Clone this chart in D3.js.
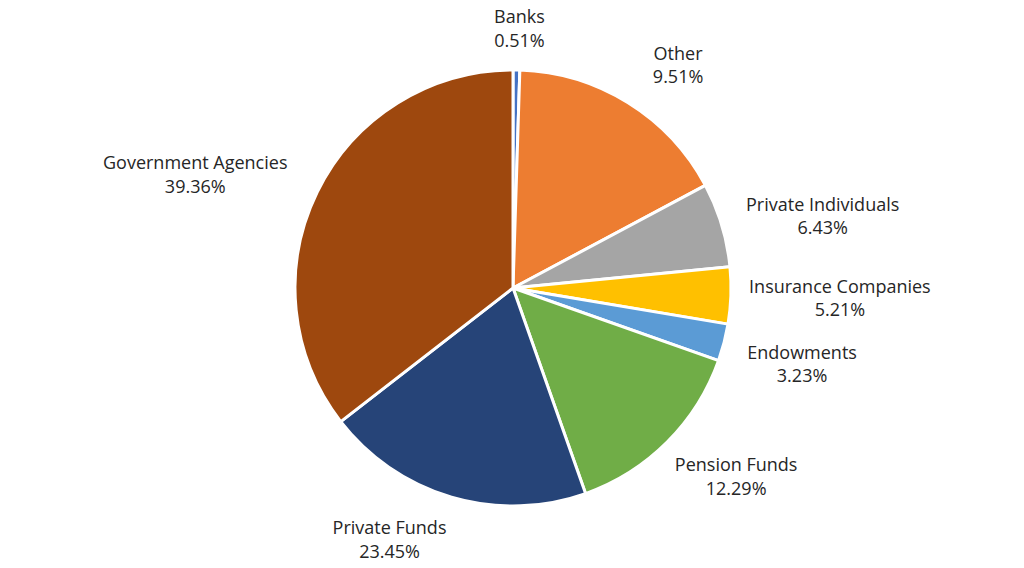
<!DOCTYPE html>
<html>
<head>
<meta charset="utf-8">
<script src="https://cdn.jsdelivr.net/npm/d3@7"></script>
<style>
  html, body { margin: 0; padding: 0; background: #ffffff; }
  svg text { font-family: "Open Sans", "Noto Sans", sans-serif; fill: #262626; }
</style>
</head>
<body>
<svg id="chart" width="1024" height="568"></svg>
<script>
// ---- data ----
const categories = ["Banks", "Other", "Private Individuals", "Insurance Companies",
                    "Endowments", "Pension Funds", "Private Funds", "Government Agencies"];
// slice sizes as drawn in the picture (share of the circle, %)
const sliceShares = [0.5, 16.7, 6.25, 4.2, 2.75, 14.2, 19.9, 35.5];
// percentages printed in the labels
const labelPercents = ["0.51%", "9.51%", "6.43%", "5.21%", "3.23%", "12.29%", "23.45%", "39.36%"];

// ---- styling / layout ----
const colors = ["#4472C4", "#ED7D31", "#A5A5A5", "#FFC000", "#5B9BD5", "#70AD47", "#264478", "#9E480E"];
const labelOffsets = [[3, -41], [50, -37], [101, -8], [109, 3], [78, 22], [69, 35], [-62, 43], [-122, -17]];

const W = 1024, H = 568;
const cx = 513, cy = 288, R = 218;

const svg = d3.select("#chart");
const g = svg.append("g").attr("transform", `translate(${cx},${cy})`);

const pie = d3.pie().sort(null).value(d => d.v);
const arc = d3.arc().innerRadius(0).outerRadius(R);

const data = categories.map((c, i) => ({ name: c, v: sliceShares[i], pct: labelPercents[i], i }));
const arcs = pie(data);

g.selectAll("path.slice")
  .data(arcs)
  .enter().append("path")
  .attr("class", "slice")
  .attr("d", arc)
  .attr("fill", d => colors[d.data.i])
  .attr("stroke", "#ffffff")
  .attr("stroke-width", 3)
  .attr("stroke-linejoin", "round");

const labels = g.selectAll("g.label")
  .data(arcs)
  .enter().append("g")
  .attr("class", "label")
  .attr("transform", d => {
    const a = (d.startAngle + d.endAngle) / 2;
    const x = Math.sin(a) * R + labelOffsets[d.data.i][0];
    const y = -Math.cos(a) * R + labelOffsets[d.data.i][1];
    return `translate(${x},${y})`;
  });

labels.append("text")
  .attr("text-anchor", "middle")
  .attr("y", -6)
  .style("font-size", "18px")
  .text(d => d.data.name);

labels.append("text")
  .attr("text-anchor", "middle")
  .attr("y", 17.5)
  .style("font-size", "18px")
  .text(d => d.data.pct);
</script>
</body>
</html>
